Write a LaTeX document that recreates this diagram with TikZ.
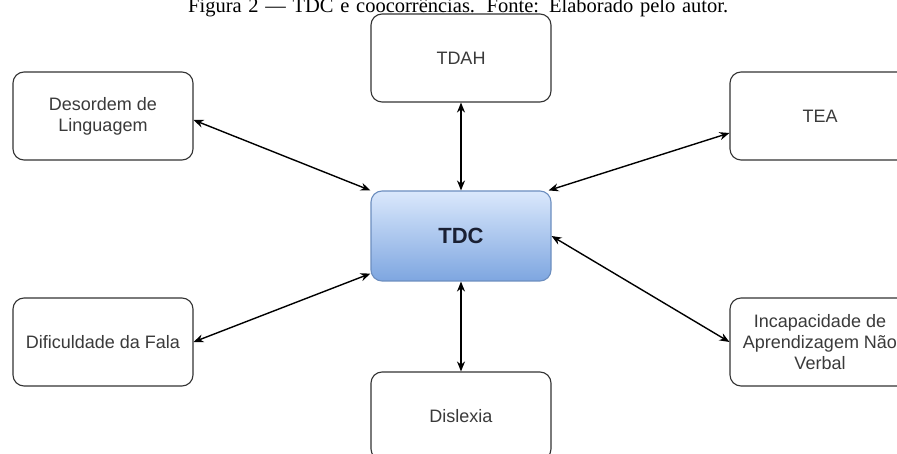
\documentclass[tikz,border=0pt]{standalone}
\usepackage{fontspec}
\setmainfont{Liberation Sans}
\newfontfamily\capfont{Liberation Serif}
\usetikzlibrary{arrows.meta,calc}
\definecolor{boxtxt}{HTML}{3A3A3A}
\definecolor{boxline}{HTML}{333333}
\definecolor{tdctop}{HTML}{DAE8FC}
\definecolor{tdcbot}{HTML}{7EA6E0}
\definecolor{tdcline}{HTML}{6C8EBF}
\definecolor{tdctxt}{HTML}{1A2033}
\tikzset{
  x=1pt,y=-1pt,
  itembox/.style={draw=boxline,line width=1.1pt,rounded corners=11pt,fill=white,
    minimum width=180pt,minimum height=88pt,inner sep=0pt,align=center,
    text=boxtxt,font=\fontsize{18pt}{21pt}\selectfont},
  centerbox/.style={draw=tdcline,line width=1.1pt,rounded corners=11pt,
    top color=tdctop,bottom color=tdcbot,minimum width=180pt,minimum height=90pt,
    inner sep=0pt,text=tdctxt,font=\fontsize{22pt}{26pt}\selectfont\bfseries},
  link/.style={line width=1.4pt,black,{Stealth[length=10pt,width=8pt]}-{Stealth[length=10pt,width=8pt]}}
}
\begin{document}
\begin{tikzpicture}
\useasboundingbox (0,0) rectangle (897,454);
\clip (0,0) rectangle (897,454);
\node[anchor=base west,inner sep=0pt,font=\capfont\fontsize{20.5pt}{24pt}\selectfont] (cap) at (188,13)
  {\makebox[540pt][s]{Figura 2 — TDC e coocorrências. Fonte: Elaborado pelo autor.}};
\node[itembox] (tdah) at (461,58) {TDAH};
\node[itembox] (deso) at (103,116) {Desordem de\\Linguagem};
\node[itembox] (tea) at (820,116) {TEA};
\node[centerbox] (tdc) at (461,236) {TDC};
\node[itembox] (difi) at (103,342) {Dificuldade da Fala};
\node[itembox] (inca) at (820,342) {Incapacidade de\\Aprendizagem Não\\Verbal};
\node[itembox] (disl) at (461,416) {Dislexia};
\draw[link] ($(deso.east)+(0,4)$) -- (tdc.north west);
\draw[link] (tdah.south) -- (tdc.north);
\draw[link] ($(tea.west)+(0,17)$) -- ($(tdc.north east)+(-3,0)$);
\draw[link] (difi.east) -- ($(tdc.south west)+(0,-8)$);
\draw[link] (disl.north) -- (tdc.south);
\draw[link] (inca.west) -- (tdc.east);
\end{tikzpicture}
\end{document}
